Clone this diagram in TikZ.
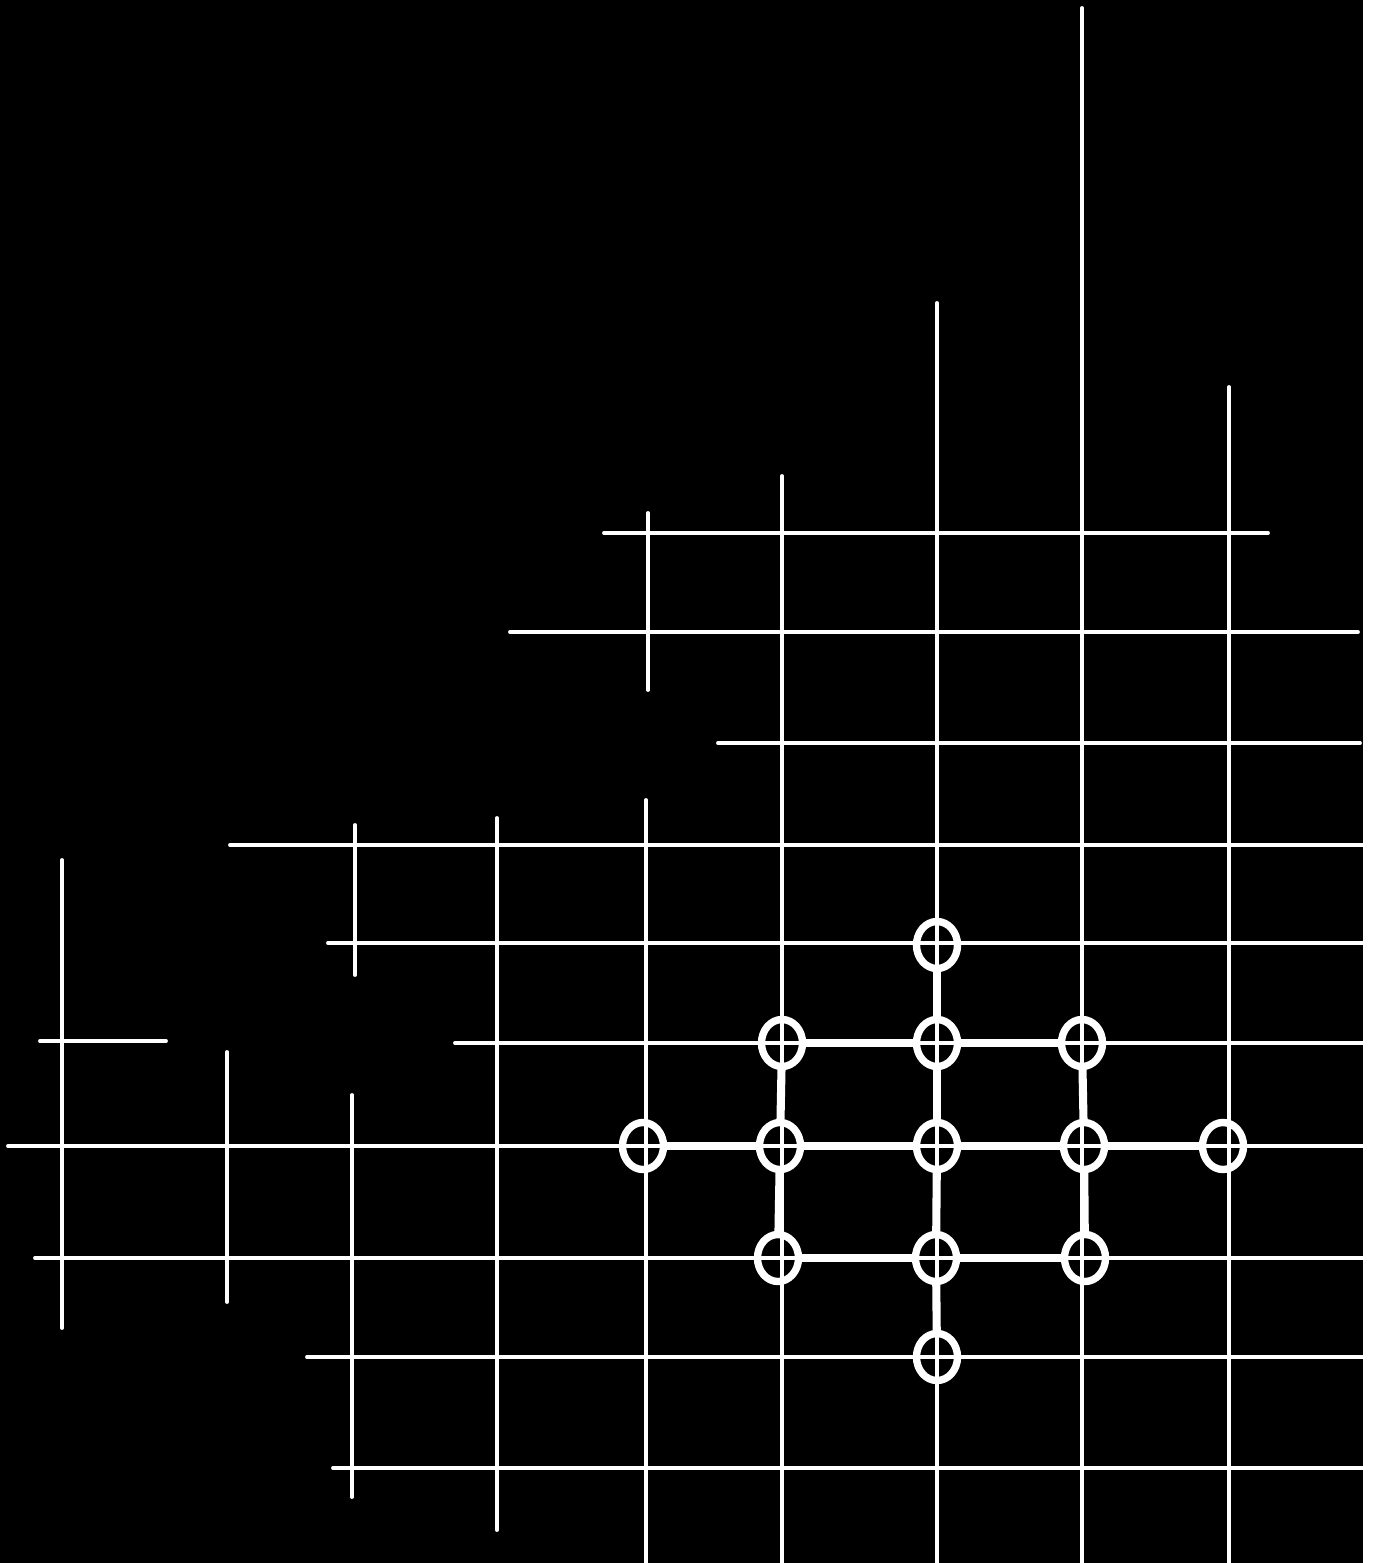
\documentclass[tikz,border=0pt]{standalone}
\usepackage{tikz}
\usetikzlibrary{shapes.geometric, positioning}

\begin{document}
\begin{tikzpicture}[x=0.01cm, y=-0.01cm, line cap=round]

    % Define the styles
    \tikzstyle{gridline} = [draw=white, line width=1.1pt]
    \tikzstyle{ring} = [ellipse, draw=white, line width=2.1pt, minimum width=0.41cm, minimum height=0.47cm, inner sep=0pt]
    \tikzstyle{link} = [draw=white, line width=2.3pt]

    % Page and black sheet
    \fill[white] (0,0) rectangle (1378,1563);
    \fill[black] (0,0) rectangle (1363,1563);
    \useasboundingbox (0,0) rectangle (1378,1563);

    % Horizontal lines
    \foreach \y/\xa/\xb in {533/604/1268, 632/510/1358, 743/718/1360, 845/230/1363,
                            943/328/1363, 1041/40/166, 1043/455/1363, 1146/8/1363,
                            1258/35/1363, 1357/307/1363, 1468/333/1363}
        \draw [gridline] (\xa,\y) -- (\xb,\y);

    % Vertical lines
    \foreach \x/\ya/\yb in {62/860/1328, 227/1052/1302, 355/825/975, 352/1095/1497,
                            497/818/1530, 648/513/690, 646/800/1563, 782/476/1563,
                            937/303/1563, 1082/8/1563, 1229/387/1563}
        \draw [gridline] (\x,\ya) -- (\x,\yb);

    % Nodes
    \node (top) [ring] at (937,945) {};
    \node (c1) [ring] at (782,1043) {};
    \node (c2) [ring] at (937,1043) {};
    \node (c3) [ring] at (1082,1043) {};
    \node (d1) [ring] at (643,1146) {};
    \node (d2) [ring] at (780,1146) {};
    \node (d3) [ring] at (937,1146) {};
    \node (d4) [ring] at (1084,1146) {};
    \node (d5) [ring] at (1223,1146) {};
    \node (e1) [ring] at (778,1258) {};
    \node (e2) [ring] at (936,1258) {};
    \node (e3) [ring] at (1085,1258) {};
    \node (bot) [ring] at (937,1357) {};

    % Links
    \draw [link] (c1) -- (c2);
    \draw [link] (c2) -- (c3);
    \draw [link] (d1) -- (d2);
    \draw [link] (d2) -- (d3);
    \draw [link] (d3) -- (d4);
    \draw [link] (d4) -- (d5);
    \draw [link] (e1) -- (e2);
    \draw [link] (e2) -- (e3);

    \draw [link] (top) -- (c2);
    \draw [link] (c2) -- (d3);
    \draw [link] (d3) -- (e2);
    \draw [link] (e2) -- (bot);
    \draw [link] (c1) -- (d2);
    \draw [link] (d2) -- (e1);
    \draw [link] (c3) -- (d4);
    \draw [link] (d4) -- (e3);

\end{tikzpicture}
\end{document}
